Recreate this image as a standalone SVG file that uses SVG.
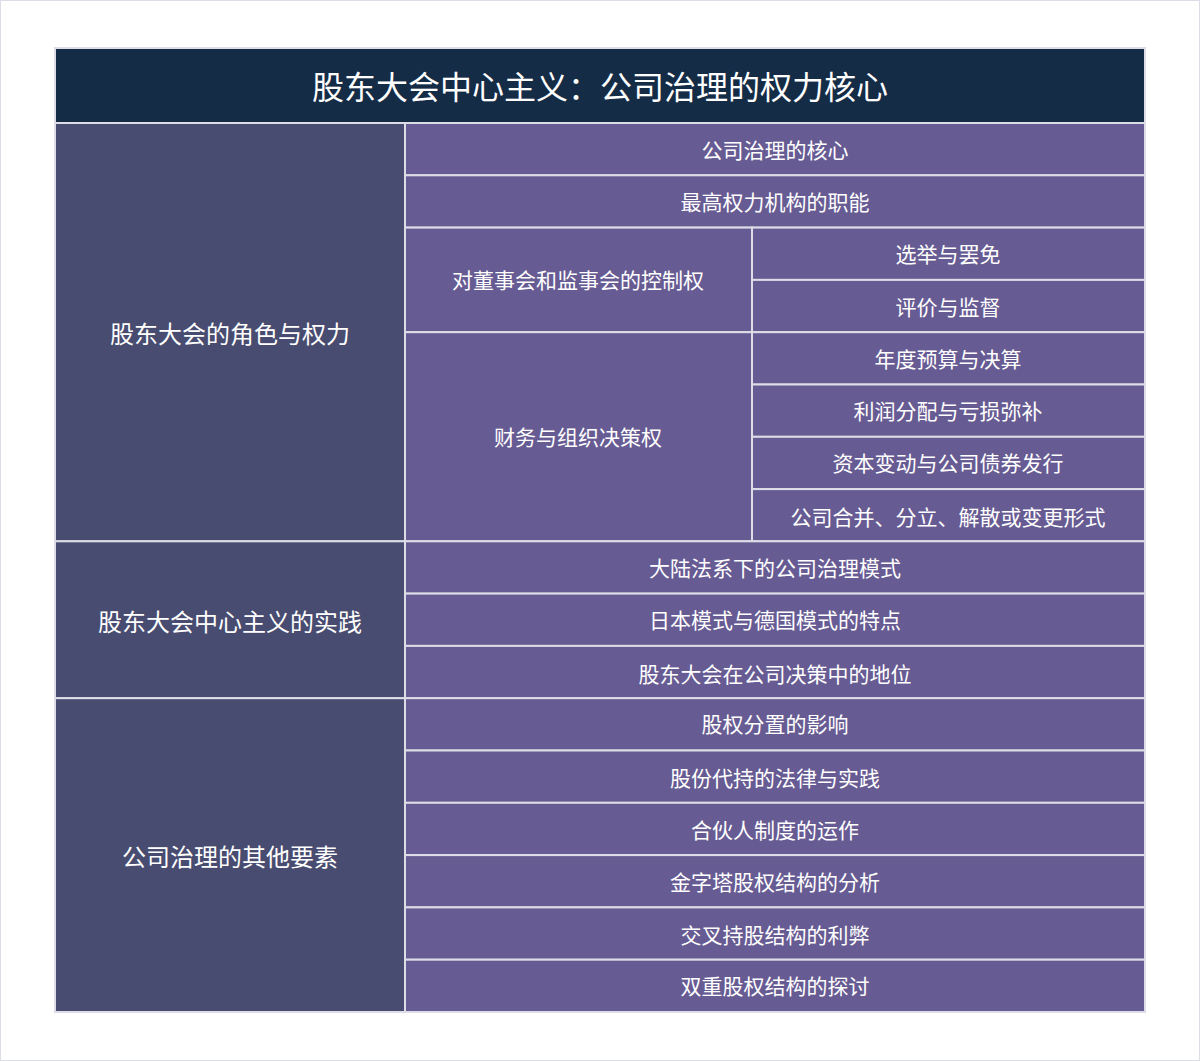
<svg xmlns="http://www.w3.org/2000/svg" width="1200" height="1061" viewBox="0 0 1200 1061">
<style>
rect{stroke:#dcdde6;stroke-width:2}
.t{fill:#152c46}.a{fill:#484c70}.b{fill:#675b93}
text{fill:#fff;font-family:"Noto Sans CJK SC","Liberation Sans",sans-serif;text-anchor:middle;dominant-baseline:central}
.l{font-size:21px}.g{font-size:24px}.h{font-size:32px}
</style>
<rect x="0" y="0" width="1200" height="1061" fill="#fff" stroke="none"/>
<g id="title"><rect class="t" x="55" y="48" width="1090" height="75"/><text class="h" x="600" y="85">股东大会中心主义：公司治理的权力核心</text></g>
<g id="g1"><rect class="a" x="55" y="123" width="350" height="418.3"/><text class="g" x="230" y="332">股东大会的角色与权力</text></g>
<g id="g2"><rect class="a" x="55" y="541.3" width="350" height="156.9"/><text class="g" x="230" y="620">股东大会中心主义的实践</text></g>
<g id="g3"><rect class="a" x="55" y="698.2" width="350" height="313.8"/><text class="g" x="230" y="855">公司治理的其他要素</text></g>
<g id="n1"><rect class="b" x="405" y="123" width="740" height="52.3"/><text class="l" x="775" y="149">公司治理的核心</text></g>
<g id="n2"><rect class="b" x="405" y="175.3" width="740" height="52.3"/><text class="l" x="775" y="201">最高权力机构的职能</text></g>
<g id="n3"><rect class="b" x="405" y="227.6" width="347" height="104.6"/><text class="l" x="578" y="279">对董事会和监事会的控制权</text></g>
<g id="n4"><rect class="b" x="752" y="227.6" width="393" height="52.3"/><text class="l" x="948" y="253">选举与罢免</text></g>
<g id="n5"><rect class="b" x="752" y="279.9" width="393" height="52.3"/><text class="l" x="948" y="306">评价与监督</text></g>
<g id="n6"><rect class="b" x="405" y="332.2" width="347" height="209.1"/><text class="l" x="578" y="436">财务与组织决策权</text></g>
<g id="n7"><rect class="b" x="752" y="332.2" width="393" height="52.3"/><text class="l" x="948" y="358">年度预算与决算</text></g>
<g id="n8"><rect class="b" x="752" y="384.5" width="393" height="52.3"/><text class="l" x="948" y="410">利润分配与亏损弥补</text></g>
<g id="n9"><rect class="b" x="752" y="436.8" width="393" height="52.3"/><text class="l" x="948" y="462">资本变动与公司债券发行</text></g>
<g id="n10"><rect class="b" x="752" y="489.1" width="393" height="52.2"/><text class="l" x="948" y="516">公司合并、分立、解散或变更形式</text></g>
<g id="n11"><rect class="b" x="405" y="541.3" width="740" height="52.3"/><text class="l" x="775" y="567">大陆法系下的公司治理模式</text></g>
<g id="n12"><rect class="b" x="405" y="593.6" width="740" height="52.3"/><text class="l" x="775" y="619">日本模式与德国模式的特点</text></g>
<g id="n13"><rect class="b" x="405" y="645.9" width="740" height="52.3"/><text class="l" x="775" y="673">股东大会在公司决策中的地位</text></g>
<g id="n14"><rect class="b" x="405" y="698.2" width="740" height="52.3"/><text class="l" x="775" y="723">股权分置的影响</text></g>
<g id="n15"><rect class="b" x="405" y="750.5" width="740" height="52.3"/><text class="l" x="775" y="777">股份代持的法律与实践</text></g>
<g id="n16"><rect class="b" x="405" y="802.8" width="740" height="52.3"/><text class="l" x="775" y="829">合伙人制度的运作</text></g>
<g id="n17"><rect class="b" x="405" y="855.1" width="740" height="52.3"/><text class="l" x="775" y="881">金字塔股权结构的分析</text></g>
<g id="n18"><rect class="b" x="405" y="907.4" width="740" height="52.3"/><text class="l" x="775" y="934">交叉持股结构的利弊</text></g>
<g id="n19"><rect class="b" x="405" y="959.7" width="740" height="52.3"/><text class="l" x="775" y="985">双重股权结构的探讨</text></g>
<g id="connectors"/>
</svg>
